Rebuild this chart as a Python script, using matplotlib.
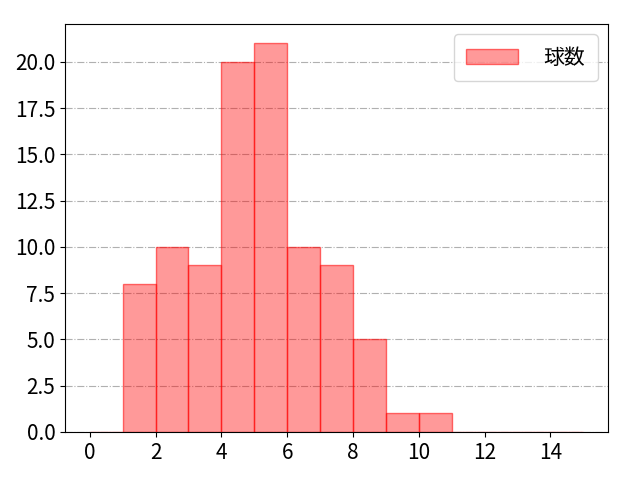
import matplotlib
matplotlib.use("Agg")
import matplotlib.pyplot as plt
import numpy as np

plt.rcParams['font.family'] = ['Noto Sans CJK JP', 'DejaVu Sans']

bin_left = list(range(0, 15))
counts = [0, 8, 10, 9, 20, 21, 10, 9, 5, 1, 1, 0, 0, 0, 0]
xticks = list(range(0, 15, 2))
label = "球数"

fig, ax = plt.subplots(figsize=(6.4, 4.8), dpi=100)
ax.bar(bin_left, counts, width=1.0, align='edge', color=(1, 0, 0, 0.4),
       edgecolor=(1, 0, 0, 0.55), linewidth=1, label=label)
ax.set_xticks(xticks)
ax.yaxis.grid(True, linestyle='-.', color='#b0b0b0', linewidth=0.8)
ax.set_axisbelow(True)
ax.tick_params(labelsize=15)
ax.legend(fontsize=15, loc='upper right', handlelength=2.5, handletextpad=1.2,
          borderpad=0.6)
fig.subplots_adjust(left=65/640, right=608/640, top=1-24/480, bottom=1-432/480)
fig.savefig("out.png", dpi=100)
